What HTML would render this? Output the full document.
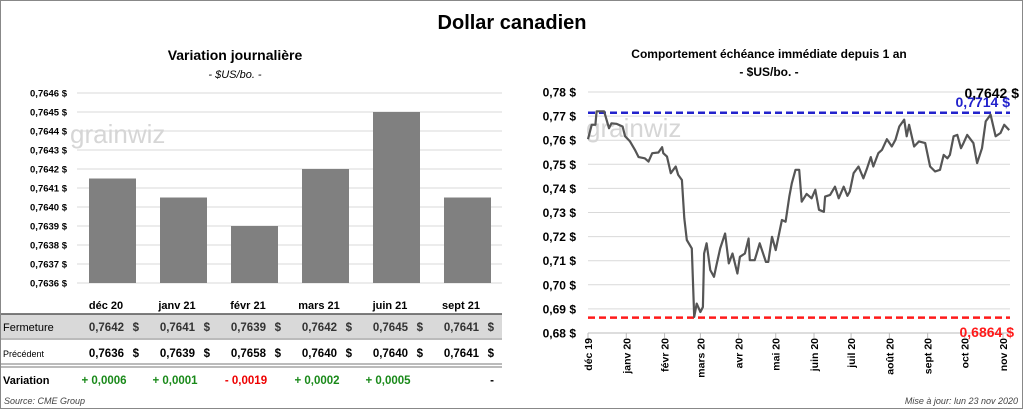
<!DOCTYPE html>
<html><head><meta charset="utf-8"><style>
body{margin:0;width:1024px;height:410px;overflow:hidden;background:#fff;font-family:"Liberation Sans",sans-serif}
svg{display:block}
</style></head><body>
<svg width="1024" height="410" id="root">
<rect x="0.5" y="0.5" width="1022" height="408" fill="#fff" stroke="#888"/>
<text x="512" y="29" text-anchor="middle" font-size="20" font-weight="bold">Dollar canadien</text>
<text x="235" y="60" text-anchor="middle" font-size="14" font-weight="bold">Variation  journalière</text>
<text x="235" y="78" text-anchor="middle" font-size="11" font-style="italic">- $US/bo. -</text>
<text x="769" y="58" text-anchor="middle" font-size="12" font-weight="bold">Comportement échéance immédiate depuis 1 an</text>
<text x="769" y="76" text-anchor="middle" font-size="12" font-weight="bold">- $US/bo. -</text>
<g id="bars"></g>
<g id="line"></g>
<g id="table"></g>
<text x="4" y="404" font-size="9" font-style="italic" fill="#444">Source: CME Group</text>
<text x="1018" y="404" text-anchor="end" font-size="9" font-style="italic" fill="#444">Mise à jour: lun 23 nov 2020</text>
</svg>
<script>
const NS="http://www.w3.org/2000/svg";
const barCats=["déc 20","janv 21","févr 21","mars 21","juin 21","sept 21"];
const barVals=[0.76415,0.76405,0.7639,0.7642,0.7645,0.76405];
const barTicks=[0.7636,0.7637,0.7638,0.7639,0.7640,0.7641,0.7642,0.7643,0.7644,0.7645,0.7646];
const closeVals=["0,7642","0,7641","0,7639","0,7642","0,7645","0,7641"];
const prevVals=["0,7636","0,7639","0,7658","0,7640","0,7640","0,7641"];
const varVals=["+ 0,0006","+ 0,0001","- 0,0019","+ 0,0002","+ 0,0005","-"];
const lineDays=[0,3,6,7,10,13,17,19,23,28,30,34,38,41,46,49,52,57,60,61,64,67,71,73,76,78,80,84,86,88,91,93,94,96,99,102,104,107,111,114,117,121,123,127,130,131,135,139,144,146,149,152,157,160,163,165,168,171,173,177,181,184,187,191,192,196,200,203,207,210,212,215,219,223,226,229,231,235,238,242,246,249,252,256,258,260,264,268,273,277,281,285,288,291,293,296,299,302,304,307,312,315,319,322,326,330,334,337,341];
const lineVals=[.7604,.7664,.7664,.772,.772,.772,.765,.767,.7668,.7657,.7616,.7595,.756,.753,.7525,.7511,.7546,.7549,.7571,.7546,.7532,.7463,.7491,.7456,.7435,.7276,.7186,.7151,.6867,.6922,.6887,.6908,.713,.7172,.7061,.7033,.7082,.7151,.7213,.7089,.713,.7047,.7116,.713,.7192,.7102,.7102,.7172,.7095,.7095,.7199,.7144,.7269,.7262,.7366,.7421,.7477,.7477,.7345,.7377,.7359,.7394,.7311,.7303,.7366,.7373,.7407,.7359,.7407,.7369,.7387,.7463,.7491,.7442,.7484,.753,.7491,.7546,.756,.7604,.7574,.7602,.7657,.7685,.7616,.7664,.7574,.7595,.7588,.7491,.747,.7477,.7539,.7525,.7539,.7616,.7622,.7567,.7588,.7622,.7588,.7505,.7567,.7678,.7706,.7616,.763,.7664,.7642];
const lineTicks=[0.68,0.69,0.70,0.71,0.72,0.73,0.74,0.75,0.76,0.77,0.78];
const monthLabels=["déc 19","janv 20","févr 20","mars 20","avr 20","mai 20","juin 20","juil 20","août 20","sept 20","oct 20","nov 20"];
const monthDays=[0,31,62,91,122,152,183,213,244,275,305,336];
const highVal=0.7714, lowVal=0.6864, lastVal=0.7642;

function el(tag,attrs,parent,txt){const e=document.createElementNS(NS,tag);for(const k in attrs)e.setAttribute(k,attrs[k]);if(txt!==undefined)e.textContent=txt;parent.appendChild(e);return e;}
const fmt=(v,d)=>v.toFixed(d).replace(".",",")+" $";

const bg=document.getElementById("bars");
const by=v=>283-(v-0.7636)/0.0001*19;
const bx=i=>112+i*71;
barTicks.forEach(t=>{
 const g=el("line",{x1:77,x2:502,y1:by(t),y2:by(t),stroke:"#d9d9d9"},bg);
 
 
 const l=el("text",{x:67,y:by(t)+3.5,"text-anchor":"end","font-size":9.5,"font-weight":"bold"},bg,fmt(t,4));
 
 
});
const wm=el("text",{x:70,y:143,"font-size":26,fill:"#d6d6d6"},bg,"grainwiz");


barVals.forEach((v,i)=>{
 const r=el("rect",{x:bx(i)-23,y:by(v),width:47,height:283-by(v),fill:"#808080"},bg);
 
 
});

const tg=document.getElementById("table");
el("rect",{x:1,y:314,width:501,height:24,fill:"#d9d9d9"},tg);
el("line",{x1:1,x2:502,y1:314,y2:314,stroke:"#555","stroke-width":1.5},tg);
el("line",{x1:1,x2:502,y1:339,y2:339,stroke:"#777"},tg);
el("line",{x1:1,x2:502,y1:364,y2:364,stroke:"#777"},tg);
el("line",{x1:1,x2:502,y1:367,y2:367,stroke:"#777"},tg);
const rl=(t,y,s,w)=>{const e=el("text",{x:3,y:y,"font-size":s,"font-weight":w},tg,t);};
rl("Fermeture",331,11,"normal");rl("Précédent",357,9,"normal");rl("Variation",384,11,"bold");
barCats.forEach((c,i)=>{
 const x=bx(i);
 const h=el("text",{x:x-6,y:309,"text-anchor":"middle","font-size":11,"font-weight":"bold"},tg,c);
 
 
 const a=el("text",{x:x+12,y:331,"text-anchor":"end","font-size":11.5,"font-weight":"bold",fill:"#333"},tg,closeVals[i]);
 
 
 el("text",{x:x+27,y:331,"text-anchor":"end","font-size":11.5,"font-weight":"bold",fill:"#333"},tg,"$");
 const b=el("text",{x:x+12,y:357,"text-anchor":"end","font-size":11.5,"font-weight":"bold"},tg,prevVals[i]);
 
 
 el("text",{x:x+27,y:357,"text-anchor":"end","font-size":11.5,"font-weight":"bold"},tg,"$");
 const vv=varVals[i];
 const col=vv.startsWith("+")?"#1a8a1a":(vv.length>1?"#e00":"#000");
 const c2=el("text",{x:vv.length>1?x-8:x+27,y:384,"text-anchor":vv.length>1?"middle":"end","font-size":11.5,"font-weight":"bold",fill:col},tg,vv);
 
 
});

const lg=document.getElementById("line");
const ly=v=>92+(0.78-v)/0.01*24.1;
const lx=d=>588+d*(415/336);
lineTicks.forEach(t=>{
 const g=el("line",{x1:588,x2:1010,y1:ly(t),y2:ly(t),stroke:"#d9d9d9"},lg);
 
 
 const l=el("text",{x:576,y:ly(t)+4.5,"text-anchor":"end","font-size":12,"font-weight":"bold"},lg,fmt(t,2));
 
 
});
el("line",{x1:588,x2:1010,y1:333,y2:333,stroke:"#bbb"},lg);
const wm2=el("text",{x:586,y:137,"font-size":26,fill:"#d6d6d6"},lg,"grainwiz");


monthDays.forEach((d,i)=>{
 el("line",{x1:lx(d),x2:lx(d),y1:333,y2:338,stroke:"#bbb"},lg);
 const t=el("text",{transform:`translate(${lx(d)+4},${338}) rotate(-90)`,"text-anchor":"end","font-size":10.5,"font-weight":"bold"},lg,monthLabels[i]);
 
 
});
const hl=el("line",{x1:588,x2:1010,y1:ly(highVal),y2:ly(highVal),stroke:"#2222cc","stroke-width":2.5,"stroke-dasharray":"7,4"},lg);


const ll=el("line",{x1:588,x2:1010,y1:ly(lowVal),y2:ly(lowVal),stroke:"#ff1a1a","stroke-width":2.5,"stroke-dasharray":"7,4"},lg);


const p=el("polyline",{points:lineDays.map((d,i)=>lx(d).toFixed(1)+","+ly(lineVals[i]).toFixed(1)).join(" "),fill:"none",stroke:"#555","stroke-width":2.2,"stroke-linejoin":"round"},lg);


const t1=el("text",{x:1019,y:98,"text-anchor":"end","font-size":14,"font-weight":"bold"},lg,fmt(lastVal,4));


const t2=el("text",{x:1010,y:107,"text-anchor":"end","font-size":14,"font-weight":"bold",fill:"#2222cc"},lg,fmt(highVal,4));


const t3=el("text",{x:1014,y:337,"text-anchor":"end","font-size":14,"font-weight":"bold",fill:"#ff1a1a"},lg,fmt(lowVal,4));


</script>
</body></html>
